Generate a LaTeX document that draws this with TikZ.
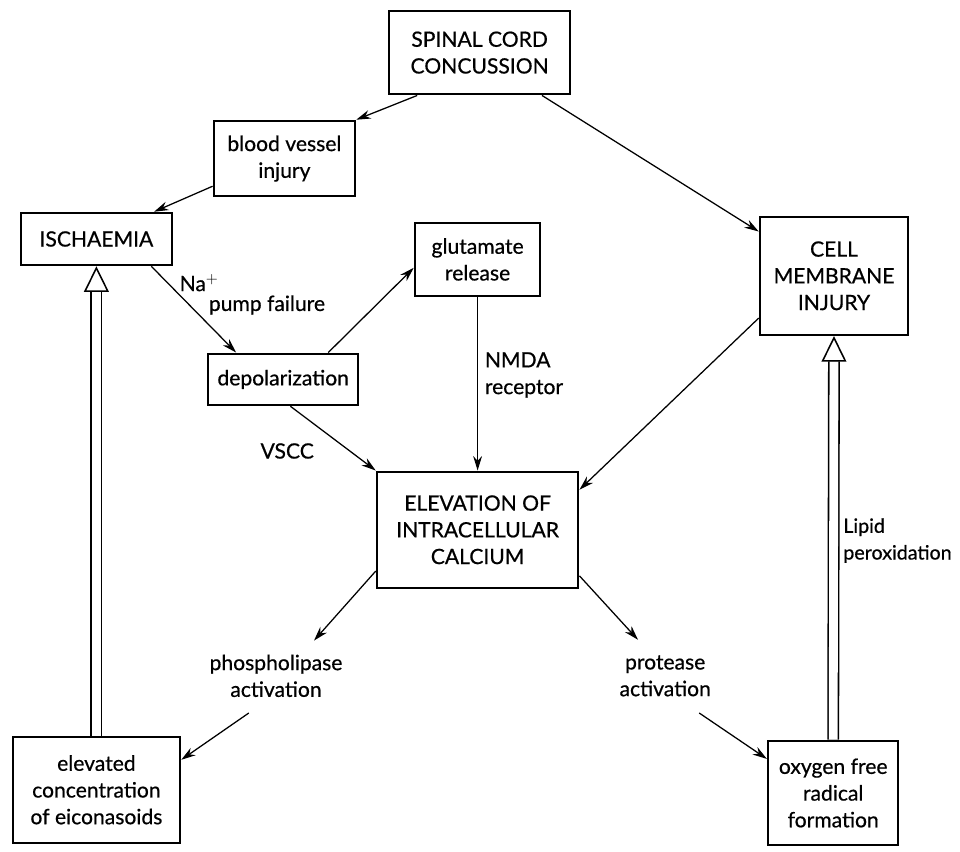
\documentclass[tikz,border=0pt]{standalone}
\usepackage{fontspec}
\setmainfont{Lato}[UprightFeatures={FakeBold=0.6}]
\usetikzlibrary{arrows.meta}

\begin{document}
\begin{tikzpicture}[
    font=\fontsize{15}{19}\selectfont,
    box/.style={draw, line width=1.8pt, align=center, inner sep=2pt},
    lbl/.style={align=center, inner sep=1pt},
    link/.style={line width=0.9pt, -{Stealth[length=0.36cm, width=0.22cm]}},
    hollow/.style={double, double distance=0.22cm, line width=1.1pt,
      -{Triangle[open, length=0.64cm, width=0.62cm]}}
  ]
  \useasboundingbox (0,0) rectangle (24,21.275);

  \node[box, minimum width=4.53cm, minimum height=2.08cm] (spin) at (11.99,19.96)
    {SPINAL CORD\\CONCUSSION};
  \node[box, minimum width=3.53cm, minimum height=1.88cm] (vessel) at (7.11,17.31)
    {blood vessel\\injury};
  \node[box, minimum width=3.78cm, minimum height=1.30cm] (isch) at (2.41,15.30)
    {ISCHAEMIA};
  \node[box, minimum width=3.13cm, minimum height=1.83cm] (glut) at (11.94,14.79)
    {glutamate\\release};
  \node[box, minimum width=3.70cm, minimum height=2.95cm] (cell) at (20.85,14.38)
    {CELL\\MEMBRANE\\INJURY};
  \node[box, minimum width=3.75cm, minimum height=1.28cm] (depol) at (7.08,11.79)
    {depolarization};
  \node[box, minimum width=5.03cm, minimum height=2.90cm] (elev) at (11.94,8.03)
    {ELEVATION OF\\INTRACELLULAR\\CALCIUM};
  \node[box, minimum width=4.18cm, minimum height=2.65cm] (eico) at (2.41,1.53)
    {elevated\\concentration\\of eiconasoids};
  \node[box, minimum width=3.25cm, minimum height=2.60cm] (oxy) at (20.83,1.45)
    {oxygen free\\radical\\formation};

  % labels on the links
  \node[lbl, anchor=west] (na) at (4.45,14.20) {Na$^{+}$};
  \node[lbl, anchor=west] (pump) at (5.18,13.65) {pump failure};
  \node[lbl, anchor=west, align=left] (nmda) at (12.08,11.90) {NMDA\\receptor};
  \node[lbl] (vscc) at (7.18,10.00) {VSCC};
  \node[lbl] (phos) at (6.90,4.38) {phospholipase\\activation};
  \node[lbl] (prot) at (16.63,4.38) {protease\\activation};
  \node[lbl, anchor=west, align=left, font=\fontsize{14}{19}\selectfont] (lipid)
    at (21.04,7.76) {Lipid\\peroxidation};

  \draw[link] ([xshift=-1.56cm]spin.south) -- (vessel.north east);
  \draw[link] ([xshift=1.56cm]spin.south) -- ([yshift=-0.4cm]cell.north west);
  \draw[link] ([yshift=0.28cm]vessel.south west) -- ([xshift=-0.48cm]isch.north east);
  \draw[link] ([xshift=-0.55cm]isch.south east) -- ([xshift=0.73cm]depol.north west);
  \draw[link] ([xshift=-0.78cm]depol.north east) -- ([yshift=-0.21cm]glut.west);
  \draw[link] (glut.south) -- (elev.north);
  \draw[link] ([xshift=0.18cm]depol.south) -- (elev.north west);
  \draw[link] ([yshift=0.45cm]cell.south west) -- ([yshift=-0.48cm]elev.north east);
  \draw[link] ([yshift=0.45cm]elev.south west) -- ([shift={(0.95cm,0.88cm)}]phos.center);
  \draw[link] ([shift={(-0.68cm,-0.93cm)}]phos.center) -- ([yshift=0.75cm]eico.east);
  \draw[link] ([yshift=0.33cm]elev.south east) -- ([shift={(-0.68cm,0.9cm)}]prot.center);
  \draw[link] ([shift={(0.85cm,-0.93cm)}]prot.center) -- ([yshift=-0.48cm]oxy.north west);

  \draw[hollow] (eico.north) -- (isch.south);
  \draw[hollow] (oxy.north) -- (cell.south);
\end{tikzpicture}
\end{document}
